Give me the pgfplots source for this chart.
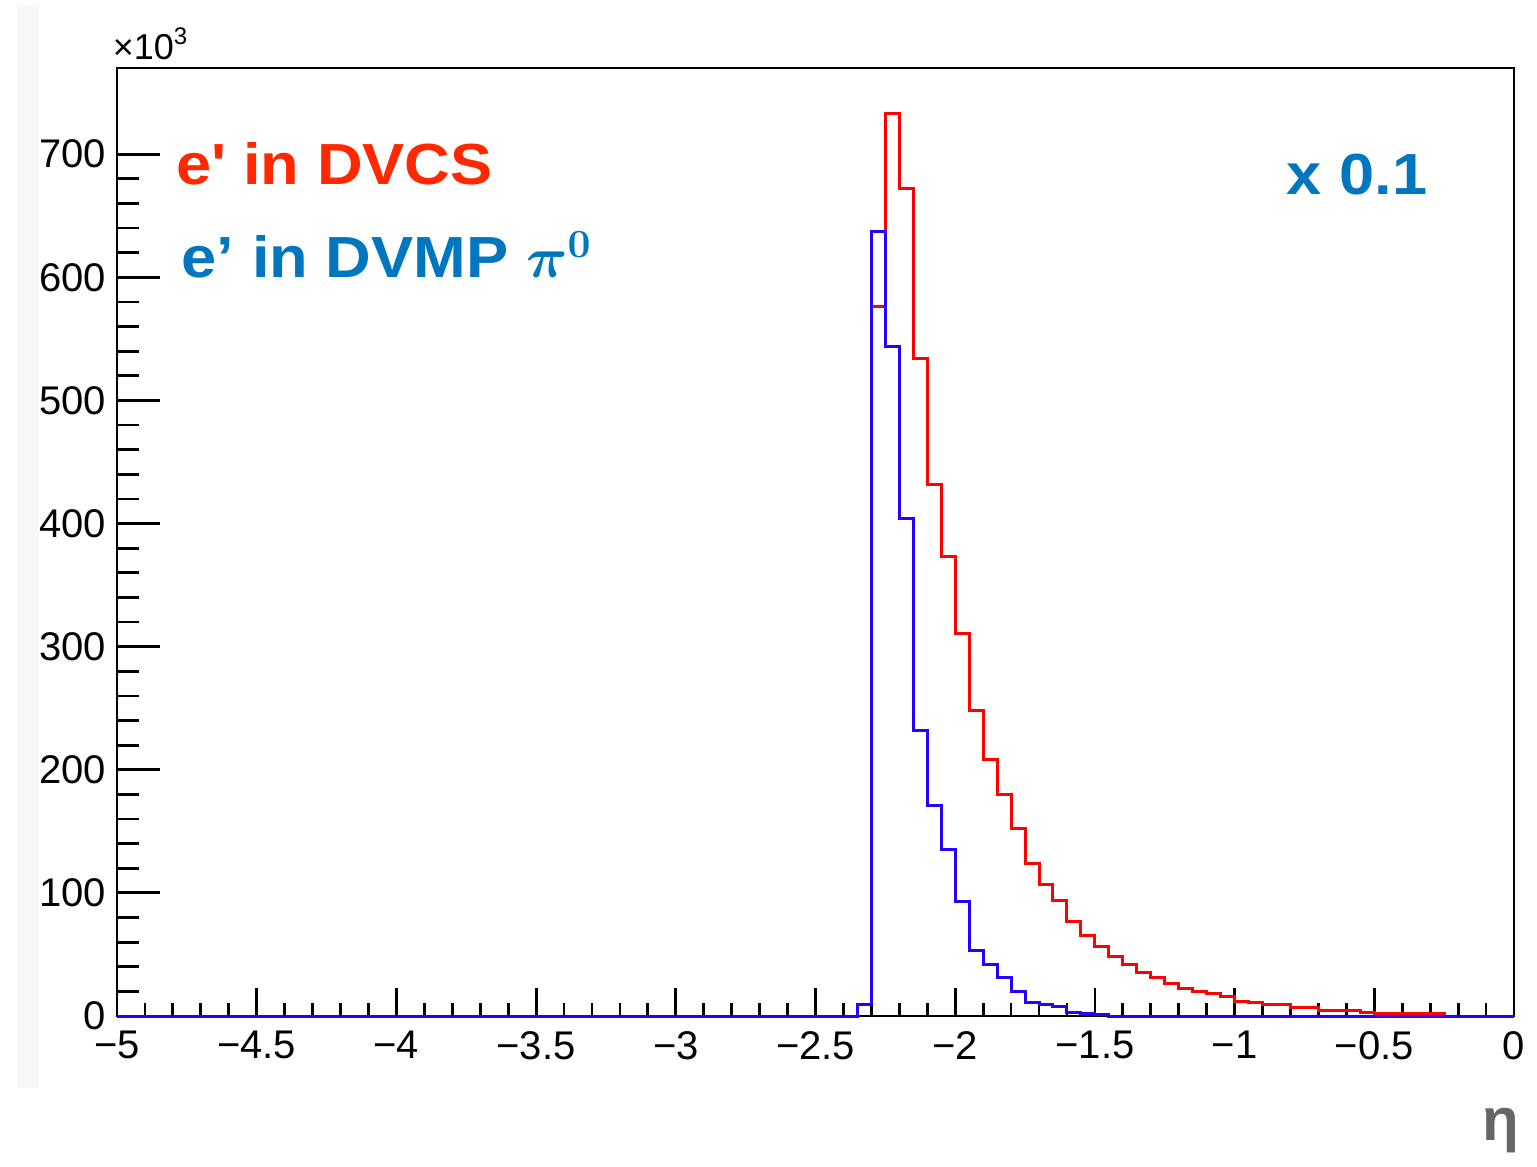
\documentclass[border=0pt]{standalone}
\usepackage{pgfplots}
\pgfplotsset{compat=1.18}
\usepackage{fontspec}
\setmainfont{Liberation Sans}
\newfontfamily\lblfont{Liberation Sans}[FakeStretch=1.09]
\definecolor{lblred}{RGB}{255,40,0}
\definecolor{lblblue}{RGB}{0,118,190}
\definecolor{hblue}{RGB}{40,0,255}
\begin{document}
\begin{tikzpicture}[x=0.25pt,y=0.25pt]
\path[use as bounding box] (0,0) rectangle (1537,1166);
\fill[black!3] (18,78) rectangle (38,1161);
\coordinate (A) at (117,150);
\begin{axis}[
  at={(A)}, anchor=south west,
  scale only axis, width=349.25pt, height=237pt,
  xmin=-5, xmax=0, ymin=0, ymax=770,
  xtick={-5,-4.5,...,0}, minor x tick num=4,
  ytick={0,100,...,700}, minor y tick num=4,
  xticklabels={−5,−4.5,−4,−3.5,−3,−2.5,−2,−1.5,−1,−0.5,0},
  tick align=inside, xtick pos=bottom, ytick pos=left,
  major tick length=7pt, minor tick length=3.3pt,
  ytick style={/pgfplots/major tick length=10.75pt,/pgfplots/minor tick length=5.5pt},
  tick style={line width=0.7pt, black},
  axis line style={line width=0.7pt},
  /pgf/number format/assume math mode=true,
  ticklabel style={font=\fontsize{10}{12}\selectfont},
  xticklabel style={yshift=-0.3pt},
  yticklabel style={xshift=0.8pt},
  scaled y ticks=false,
  clip=false,
]
\addplot[const plot mark left, red, line width=0.75pt] coordinates {
(-2.3,576) (-2.25,733) (-2.2,672) (-2.15,534) (-2.1,432) (-2.05,373.5)
(-2.0,311) (-1.95,248) (-1.9,208.5) (-1.85,180) (-1.8,152) (-1.75,124)
(-1.7,107) (-1.65,93.6) (-1.6,76.6) (-1.55,65.7) (-1.5,56.5) (-1.45,48)
(-1.4,41.7) (-1.35,35.3) (-1.3,31) (-1.25,26.5) (-1.2,22.5) (-1.15,20)
(-1.1,18) (-1.05,16) (-1.0,11.5) (-0.95,11.3) (-0.9,9.5) (-0.85,9.3)
(-0.8,7.2) (-0.75,7) (-0.7,4.8) (-0.65,4.6) (-0.6,4.4) (-0.55,2.6)
(-0.5,2.4) (-0.45,2.3) (-0.4,2.2) (-0.35,2.1) (-0.3,2) (-0.25,0) (0,0)
};
\addplot[const plot mark left, hblue, line width=0.75pt] coordinates {
(-5,0) (-2.35,9) (-2.3,637) (-2.25,544) (-2.2,404) (-2.15,232) (-2.1,171)
(-2.05,135) (-2.0,93) (-1.95,53) (-1.9,42) (-1.85,31) (-1.8,20) (-1.75,11)
(-1.7,9.5) (-1.65,7.5) (-1.6,3) (-1.55,2) (-1.5,1.5) (-1.45,0) (0,0)
};
\end{axis}
\node[anchor=base west, inner sep=0pt, font=\fontsize{9}{10}\selectfont] at (112,1106) {×10\textsuperscript{3}};
\node[anchor=base west, inner sep=0pt, text=lblred, font=\lblfont\fontsize{14.5}{16}\selectfont\bfseries] at (176,981) {e\textquotesingle{} in DVCS};
\node[anchor=base west, inner sep=0pt, text=lblblue, font=\lblfont\fontsize{14.5}{16}\selectfont\bfseries] at (181,888) {e\textquoteright{} in DVMP {\boldmath$\pi^{0}$}};
\node[anchor=base west, inner sep=0pt, text=lblblue, font=\lblfont\fontsize{14.5}{16}\selectfont\bfseries] at (1286,971) {x 0.1};
\node[anchor=base east, inner sep=0pt, text=black!60, font=\fontsize{15}{16}\selectfont\bfseries] at (1520,26) {η};
\end{tikzpicture}
\end{document}
